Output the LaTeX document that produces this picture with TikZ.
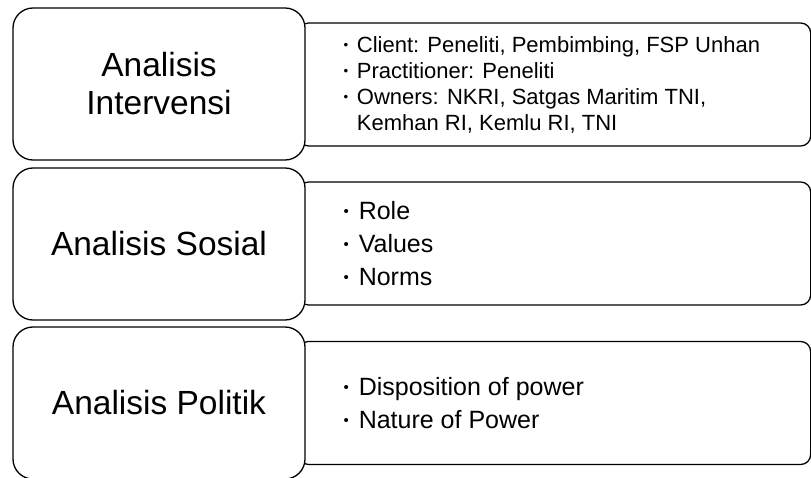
\documentclass[tikz,border=0pt]{standalone}
\usepackage{fontspec}
\setmainfont{Liberation Sans}
\newcommand{\blt}{\raisebox{0.12em}{\scalebox{0.6}{\textbullet}}\hspace{0.4em}}
\begin{document}
\begin{tikzpicture}[x=1pt,y=-1pt,
    headbox/.style={draw, line width=1.3pt, rounded corners=20pt, fill=white,
      minimum width=292pt, minimum height=152pt, align=center,
      font=\fontsize{33.5}{38}\selectfont},
    listbox/.style={draw, line width=1.3pt, rounded corners=10pt, fill=white,
      minimum width=512pt, minimum height=123pt, anchor=west},
    listtext/.style={anchor=west, align=left}]
    \useasboundingbox (0,0) rectangle (811,478);

    % Lists on the right (behind the headings)
    \foreach \name/\y in {Intervensi/84.5, Sosial/243.5, Politik/403}
        \node[listbox] (list\name) at (298,\y) {};

    \node[listtext, font=\fontsize{22}{26}\selectfont] (textIntervensi) at (340,84.5)
        {\blt Client: Peneliti, Pembimbing, FSP Unhan\\
         \blt Practitioner: Peneliti\\
         \blt Owners: NKRI, Satgas Maritim TNI,\\
         \hphantom{\blt}Kemhan RI, Kemlu RI, TNI};
    \node[listtext, font=\fontsize{25}{33}\selectfont] (textSosial) at (340,243.5)
        {\blt Role\\ \blt Values\\ \blt Norms};
    \node[listtext, font=\fontsize{25}{33}\selectfont] (textPolitik) at (340,403)
        {\blt Disposition of power\\ \blt Nature of Power};

    % Headings on the left
    \node[headbox] (headIntervensi) at (159,84) {Analisis\\Intervensi};
    \node[headbox] (headSosial) at (159,244) {Analisis Sosial};
    \node[headbox] (headPolitik) at (159,403) {Analisis Politik};
\end{tikzpicture}
\end{document}
